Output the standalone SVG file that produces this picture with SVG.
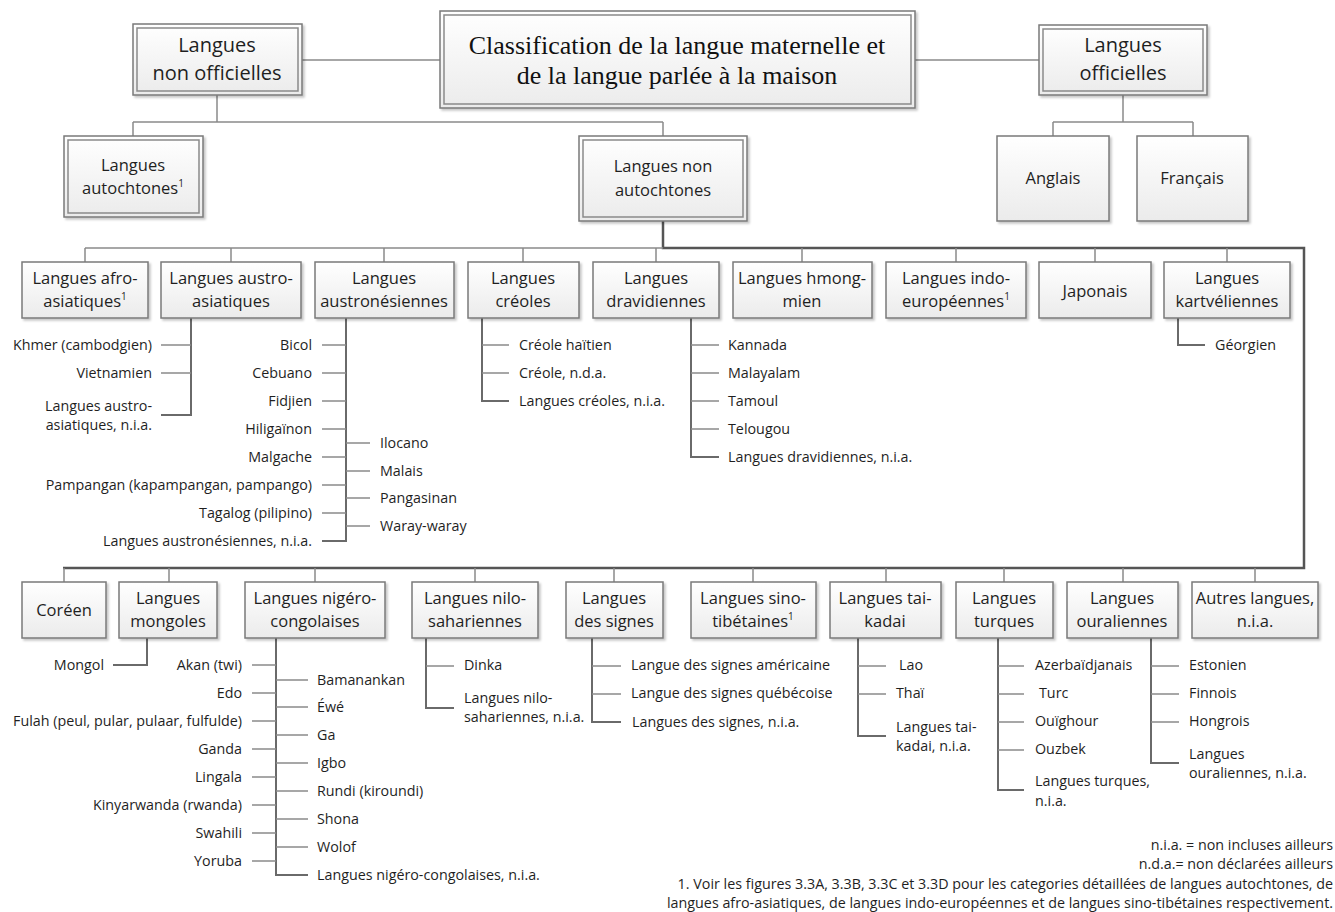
<svg xmlns="http://www.w3.org/2000/svg" width="1335" height="912" viewBox="0 0 1335 912">
<defs>
<linearGradient id="g" x1="0" y1="0" x2="0" y2="1"><stop offset="0" stop-color="#ffffff"/><stop offset="1" stop-color="#ebebeb"/></linearGradient>
<filter id="sh" x="-10%" y="-10%" width="130%" height="140%"><feDropShadow dx="2" dy="2" stdDeviation="1.2" flood-color="#000" flood-opacity="0.22"/></filter>
</defs>
<style>
.b{fill:url(#g);stroke:#7a7a7a;stroke-width:1.5;filter:url(#sh)}
.bi{fill:none;stroke:#8a8a8a;stroke-width:1.5}
.t{font-family:"Open Sans","Liberation Sans",sans-serif;fill:#1f1f1f;text-anchor:middle}
.top{font-size:20px}
.bx{font-size:16.5px}
.c{font-family:"Open Sans","Liberation Sans",sans-serif;font-size:14.3px;fill:#1f1f1f}
.r{text-anchor:end}
.ttl{font-family:"Liberation Serif","Times New Roman",serif;font-size:26px;fill:#111;text-anchor:middle}
.fn{font-family:"Open Sans","Liberation Sans",sans-serif;font-size:14.3px;fill:#1f1f1f;text-anchor:end}
.sup{font-size:10px}
.l{fill:none;stroke:#8a8a8a;stroke-width:1.5}
.v{fill:none;stroke:#6a6a6a;stroke-width:2}
.d{fill:none;stroke:#555;stroke-width:2.5}
</style>

<g id="connectors">
<path class="l" d="M302 60H440M915 60H1039"/>
<path class="l" d="M217 95V122M133 122H663M133 122V136M663 122V136"/>
<path class="l" d="M1123 95V122M1053 122H1193M1053 122V136M1193 122V136"/>
<path class="d" d="M663 221V248H1304V568H63"/>
<path class="l" d="M85 248H663M85 248V262M231 248V262M384 248V262M523 248V262M656 248V262M802 248V262M956 248V262M1095 248V262M1227 248V262"/>
<path class="l" d="M64 568V582M169 568V582M315 568V582M475 568V582M614 568V582M753 568V582M886 568V582M1004 568V582M1123 568V582M1255 568V582"/>
<path class="v" d="M191 318V415H161"/>
<path class="l" d="M161 345H191M161 373H191"/>
<path class="v" d="M346 318V541H322"/>
<path class="l" d="M322 345H346M322 373H346M322 401H346M322 429H346M322 457H346M322 485H346M322 513H346M346 443H370M346 471H370M346 498H370M346 526H370"/>
<path class="v" d="M482 318V401H509"/>
<path class="l" d="M482 345H509M482 373H509"/>
<path class="v" d="M691 318V457H719"/>
<path class="l" d="M691 345H719M691 373H719M691 401H719M691 429H719"/>
<path class="v" d="M1178 318V345H1205"/>
<path class="v" d="M147 638V665H113"/>
<path class="v" d="M276 638V875H308"/>
<path class="l" d="M252 665H276M252 693H276M252 721H276M252 749H276M252 777H276M252 805H276M252 833H276M252 861H276M276 680H308M276 707H308M276 735H308M276 763H308M276 791H308M276 819H308M276 847H308"/>
<path class="v" d="M426 638V708H454"/>
<path class="l" d="M426 666H454"/>
<path class="v" d="M592 638V722H621"/>
<path class="l" d="M592 666H621M592 694H621"/>
<path class="v" d="M858 638V736H886"/>
<path class="l" d="M858 666H886M858 694H886"/>
<path class="v" d="M998 638V790H1024"/>
<path class="l" d="M998 666H1024M998 694H1024M998 722H1024M998 750H1024"/>
<path class="v" d="M1151 638V763H1179"/>
<path class="l" d="M1151 666H1179M1151 694H1179M1151 722H1179"/>
</g>

<g id="n-title"><rect class="b" x="440" y="11" width="475" height="97"/><rect class="bi" x="444" y="15" width="467" height="89"/>
<text class="ttl" x="677" y="54">Classification de la langue maternelle et</text>
<text class="ttl" x="677" y="84">de la langue parlée à la maison</text></g>

<g id="n-nonoff"><rect class="b" x="133" y="24" width="169" height="71"/><rect class="bi" x="137" y="28" width="161" height="63"/>
<text class="t top" x="217" y="52">Langues</text><text class="t top" x="217" y="80">non officielles</text></g>

<g id="n-off"><rect class="b" x="1039" y="25" width="168" height="70"/><rect class="bi" x="1043" y="29" width="160" height="62"/>
<text class="t top" x="1123" y="52">Langues</text><text class="t top" x="1123" y="80">officielles</text></g>

<g id="n-autoch"><rect class="b" x="64" y="136" width="139" height="81"/><rect class="bi" x="68" y="140" width="131" height="73"/>
<text class="t bx" x="133" y="171">Langues</text><text class="t bx" x="133" y="194">autochtones<tspan class="sup" dy="-7">1</tspan></text></g>

<g id="n-nonautoch"><rect class="b" x="579" y="136" width="168" height="85"/><rect class="bi" x="583" y="140" width="160" height="77"/>
<text class="t bx" x="663" y="172">Langues non</text><text class="t bx" x="663" y="196">autochtones</text></g>

<g id="n-anglais"><rect class="b" x="997" y="136" width="112" height="85"/><text class="t bx" x="1053" y="184">Anglais</text></g>
<g id="n-francais"><rect class="b" x="1137" y="136" width="111" height="85"/><text class="t bx" x="1192" y="184">Français</text></g>

<g id="n-afro"><rect class="b" x="22" y="262" width="126" height="56"/><text class="t bx" x="85" y="284">Langues afro-</text><text class="t bx" x="85" y="307">asiatiques<tspan class="sup" dy="-7">1</tspan></text></g>
<g id="n-austroas"><rect class="b" x="161" y="262" width="140" height="56"/><text class="t bx" x="231" y="284">Langues austro-</text><text class="t bx" x="231" y="307">asiatiques</text></g>
<g id="n-austron"><rect class="b" x="315" y="262" width="139" height="56"/><text class="t bx" x="384" y="284">Langues</text><text class="t bx" x="384" y="307">austronésiennes</text></g>
<g id="n-creoles"><rect class="b" x="468" y="262" width="111" height="56"/><text class="t bx" x="523" y="284">Langues</text><text class="t bx" x="523" y="307">créoles</text></g>
<g id="n-drav"><rect class="b" x="593" y="262" width="126" height="56"/><text class="t bx" x="656" y="284">Langues</text><text class="t bx" x="656" y="307">dravidiennes</text></g>
<g id="n-hmong"><rect class="b" x="733" y="262" width="139" height="56"/><text class="t bx" x="802" y="284">Langues hmong-</text><text class="t bx" x="802" y="307">mien</text></g>
<g id="n-indo"><rect class="b" x="886" y="262" width="140" height="56"/><text class="t bx" x="956" y="284">Langues indo-</text><text class="t bx" x="956" y="307">européennes<tspan class="sup" dy="-7">1</tspan></text></g>
<g id="n-jap"><rect class="b" x="1039" y="262" width="112" height="56"/><text class="t bx" x="1095" y="297">Japonais</text></g>
<g id="n-kart"><rect class="b" x="1164" y="262" width="126" height="56"/><text class="t bx" x="1227" y="284">Langues</text><text class="t bx" x="1227" y="307">kartvéliennes</text></g>

<g id="n-coreen"><rect class="b" x="22" y="582" width="84" height="56"/><text class="t bx" x="64" y="616">Coréen</text></g>
<g id="n-mongoles"><rect class="b" x="119" y="582" width="98" height="56"/><text class="t bx" x="168" y="604">Langues</text><text class="t bx" x="168" y="627">mongoles</text></g>
<g id="n-nigero"><rect class="b" x="245" y="582" width="140" height="56"/><text class="t bx" x="315" y="604">Langues nigéro-</text><text class="t bx" x="315" y="627">congolaises</text></g>
<g id="n-nilo"><rect class="b" x="412" y="582" width="126" height="56"/><text class="t bx" x="475" y="604">Langues nilo-</text><text class="t bx" x="475" y="627">sahariennes</text></g>
<g id="n-signes"><rect class="b" x="566" y="582" width="97" height="56"/><text class="t bx" x="614" y="604">Langues</text><text class="t bx" x="614" y="627">des signes</text></g>
<g id="n-sino"><rect class="b" x="691" y="582" width="125" height="56"/><text class="t bx" x="753" y="604">Langues sino-</text><text class="t bx" x="753" y="627">tibétaines<tspan class="sup" dy="-7">1</tspan></text></g>
<g id="n-tai"><rect class="b" x="830" y="582" width="111" height="56"/><text class="t bx" x="885" y="604">Langues tai-</text><text class="t bx" x="885" y="627">kadai</text></g>
<g id="n-turques"><rect class="b" x="956" y="582" width="97" height="56"/><text class="t bx" x="1004" y="604">Langues</text><text class="t bx" x="1004" y="627">turques</text></g>
<g id="n-oural"><rect class="b" x="1067" y="582" width="111" height="56"/><text class="t bx" x="1122" y="604">Langues</text><text class="t bx" x="1122" y="627">ouraliennes</text></g>
<g id="n-autres"><rect class="b" x="1192" y="582" width="126" height="56"/><text class="t bx" x="1255" y="604">Autres langues,</text><text class="t bx" x="1255" y="627">n.i.a.</text></g>

<g id="leaves">
<text class="c r" x="152" y="350">Khmer (cambodgien)</text>
<text class="c r" x="152" y="378">Vietnamien</text>
<text class="c r" x="152" y="411">Langues austro-</text>
<text class="c r" x="152" y="430">asiatiques, n.i.a.</text>

<text class="c r" x="312" y="350">Bicol</text>
<text class="c r" x="312" y="378">Cebuano</text>
<text class="c r" x="312" y="406">Fidjien</text>
<text class="c r" x="312" y="434">Hiligaïnon</text>
<text class="c r" x="312" y="462">Malgache</text>
<text class="c r" x="312" y="490">Pampangan (kapampangan, pampango)</text>
<text class="c r" x="312" y="518">Tagalog (pilipino)</text>
<text class="c r" x="312" y="546">Langues austronésiennes, n.i.a.</text>
<text class="c" x="380" y="448">Ilocano</text>
<text class="c" x="380" y="476">Malais</text>
<text class="c" x="380" y="503">Pangasinan</text>
<text class="c" x="380" y="531">Waray-waray</text>

<text class="c" x="519" y="350">Créole haïtien</text>
<text class="c" x="519" y="378">Créole, n.d.a.</text>
<text class="c" x="519" y="406">Langues créoles, n.i.a.</text>

<text class="c" x="728" y="350">Kannada</text>
<text class="c" x="728" y="378">Malayalam</text>
<text class="c" x="728" y="406">Tamoul</text>
<text class="c" x="728" y="434">Telougou</text>
<text class="c" x="728" y="462">Langues dravidiennes, n.i.a.</text>

<text class="c" x="1215" y="350">Géorgien</text>

<text class="c r" x="104" y="670">Mongol</text>

<text class="c r" x="242" y="670">Akan (twi)</text>
<text class="c r" x="242" y="698">Edo</text>
<text class="c r" x="242" y="726">Fulah (peul, pular, pulaar, fulfulde)</text>
<text class="c r" x="242" y="754">Ganda</text>
<text class="c r" x="242" y="782">Lingala</text>
<text class="c r" x="242" y="810">Kinyarwanda (rwanda)</text>
<text class="c r" x="242" y="838">Swahili</text>
<text class="c r" x="242" y="866">Yoruba</text>
<text class="c" x="317" y="685">Bamanankan</text>
<text class="c" x="317" y="712">Éwé</text>
<text class="c" x="317" y="740">Ga</text>
<text class="c" x="317" y="768">Igbo</text>
<text class="c" x="317" y="796">Rundi (kiroundi)</text>
<text class="c" x="317" y="824">Shona</text>
<text class="c" x="317" y="852">Wolof</text>
<text class="c" x="317" y="880">Langues nigéro-congolaises, n.i.a.</text>

<text class="c" x="464" y="670">Dinka</text>
<text class="c" x="464" y="703">Langues nilo-</text>
<text class="c" x="464" y="722">sahariennes, n.i.a.</text>

<text class="c" x="631" y="670">Langue des signes américaine</text>
<text class="c" x="631" y="698">Langue des signes québécoise</text>
<text class="c" x="632" y="727">Langues des signes, n.i.a.</text>

<text class="c" x="899" y="670">Lao</text>
<text class="c" x="896" y="698">Thaï</text>
<text class="c" x="896" y="732">Langues tai-</text>
<text class="c" x="896" y="751">kadai, n.i.a.</text>

<text class="c" x="1035" y="670">Azerbaïdjanais</text>
<text class="c" x="1039" y="698">Turc</text>
<text class="c" x="1035" y="726">Ouïghour</text>
<text class="c" x="1035" y="754">Ouzbek</text>
<text class="c" x="1035" y="786">Langues turques,</text>
<text class="c" x="1035" y="806">n.i.a.</text>

<text class="c" x="1189" y="670">Estonien</text>
<text class="c" x="1189" y="698">Finnois</text>
<text class="c" x="1189" y="726">Hongrois</text>
<text class="c" x="1189" y="759">Langues</text>
<text class="c" x="1189" y="778">ouraliennes, n.i.a.</text>
</g>

<g id="notes">
<text class="fn" x="1333" y="850">n.i.a. = non incluses ailleurs</text>
<text class="fn" x="1333" y="869">n.d.a.= non déclarées ailleurs</text>
<text class="fn" x="1333" y="889">1. Voir les figures 3.3A, 3.3B, 3.3C et 3.3D pour les categories détaillées de langues autochtones, de</text>
<text class="fn" x="1333" y="908">langues afro-asiatiques, de langues indo-européennes et de langues sino-tibétaines respectivement.</text>
</g>
</svg>
